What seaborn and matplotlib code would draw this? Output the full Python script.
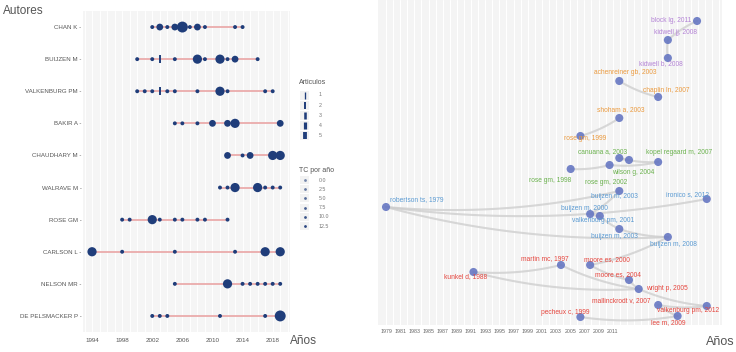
import numpy as np
import pandas as pd
import matplotlib.pyplot as plt
import seaborn as sns

sns.set_style("white")
plt.rcParams['font.family'] = ['Liberation Sans', 'DejaVu Sans']

# ---- datos: produccion de autores en el tiempo ----
authors = ["CHAN K", "BUIJZEN M", "VALKENBURG PM", "BAKIR A", "CHAUDHARY M",
           "WALRAVE M", "ROSE GM", "CARLSON L", "NELSON MR", "DE PELSMACKER P"]
author_years = [
    [2002, 2003, 2004, 2005, 2006, 2007, 2008, 2009, 2013, 2014],
    [2000, 2002, 2005, 2008, 2009, 2011, 2012, 2013, 2016],
    [2000, 2001, 2002, 2004, 2005, 2008, 2011, 2012, 2017, 2018],
    [2005, 2006, 2008, 2010, 2012, 2013, 2019],
    [2012, 2014, 2015, 2018, 2019],
    [2011, 2012, 2013, 2016, 2017, 2018, 2019],
    [1998, 1999, 2002, 2003, 2005, 2006, 2008, 2009, 2012],
    [1994, 1998, 2005, 2013, 2017, 2019],
    [2005, 2012, 2014, 2015, 2016, 2017, 2018, 2019],
    [2002, 2003, 2004, 2011, 2017, 2019],
]
author_articles = [
    [1, 2, 1, 2, 4, 1, 2, 1, 1, 1],
    [1, 1, 1, 3, 1, 3, 1, 2, 1],
    [1, 1, 1, 1, 1, 1, 3, 1, 1, 1],
    [1, 1, 1, 2, 2, 3, 2],
    [2, 1, 2, 3, 3],
    [1, 1, 3, 3, 1, 1, 1],
    [1, 1, 3, 1, 1, 1, 1, 1, 1],
    [3, 1, 1, 1, 3, 3],
    [1, 3, 1, 1, 1, 1, 1, 1],
    [1, 1, 1, 1, 1, 4],
]
bar_authors = ["BUIJZEN M", "VALKENBURG PM"]
bar_years = [2003, 2003]
art_levels = [1, 2, 3, 4, 5]
tc_levels = ["0.0", "2.5", "5.0", "7.5", "10.0", "12.5"]

# ---- datos: historiografo ----
hist_labels = ["block lg, 2011", "kidwell jj, 2008", "kidwell b, 2008",
               "achenreiner gb, 2003", "chaplin ln, 2007", "shoham a, 2003", "rose gm, 1999",
               "rose gm, 1998", "rose gm, 2002", "canuana a, 2003", "wilson g, 2004", "kopel regaard m, 2007",
               "robertson ts, 1979", "ironico s, 2012", "buijzen m, 2003", "buijzen m, 2000",
               "valkenburg pm, 2001", "buijzen m, 2003 ", "buijzen m, 2008",
               "kunkel d, 1988", "martin mc, 1997", "moore es, 2000", "moore es, 2004", "wright p, 2005",
               "mallinckrodt v, 2007", "valkenburg pm, 2012", "lee m, 2009", "pecheux c, 1999"]
hist_years = [2011, 2008, 2008,
              2003, 2007, 2003, 1999,
              1998, 2002, 2003, 2004, 2007,
              1979, 2012, 2003, 2000, 2001, 2003, 2008,
              1988, 1997, 2000, 2004, 2005, 2007, 2012, 2009, 1999]
hist_rank = [21, 40, 58,
             81, 97, 118, 136,
             169, 165, 158, 160, 162,
             207, 199, 191, 214, 216, 229, 237,
             272, 265, 265, 280, 289, 305, 306, 316, 317]
hist_cluster = ["c5"] * 3 + ["c4"] * 4 + ["c3"] * 5 + ["c2"] * 7 + ["c1"] * 9
hist_edges = [(0, 1), (1, 2), (3, 4), (6, 5),
              (7, 8), (8, 11), (9, 10), (9, 11),
              (12, 14), (12, 13), (12, 18), (15, 16), (15, 14), (16, 17), (17, 18),
              (19, 20), (19, 23), (20, 23), (21, 22), (22, 23), (23, 25), (21, 18),
              (27, 26), (24, 26), (24, 25)]
x_tick_labels = [str(y) for y in range(1979, 2012, 2)]

# estilo
label_offsets = [(-26, -1), (8, -8), (-7, 6),
                 (6, -8), (8, -7), (1, -8), (5, 2),
                 (-21, 11), (-3, 18), (-17, -6), (4, 12), (21, -9),
                 (31, -7), (-19, -4), (-5, 6), (-6, -5), (3, 5), (-5, 7), (6, 8),
                 (-8, 5), (-16, -6), (17, -5), (-11, -5), (28, 0), (-37, -4), (-19, 4), (-9, 7), (-15, -5)]
cluster_colors = {"c5": "#b483d6", "c4": "#eb9a3e", "c3": "#6cb24f", "c2": "#5a9ad2", "c1": "#e5463e"}
navy = "#1f3d7a"

fig = plt.figure(figsize=(7.36, 3.52), dpi=100)
W, H = 736, 352


def px_axes(x0, y0, x1, y1):
    return fig.add_axes([x0 / W, 1 - y1 / H, (x1 - x0) / W, (y1 - y0) / H])


# ================= panel izquierdo =================
ax1 = px_axes(83, 11, 290, 332)
rows = []
for a, ys, ns in zip(authors, author_years, author_articles):
    for y, n in zip(ys, ns):
        rows.append({"author": a, "year": y, "articles": n})
df = pd.DataFrame(rows)
ax1.set_facecolor("#f5f5f5")
for yr in range(1993, 2021):
    ax1.axvline(yr, color="white", lw=0.7, zorder=0)
span = df.groupby("author", sort=False)["year"].agg(["min", "max"])
ax1.hlines([authors.index(a) for a in span.index], span["min"], span["max"],
           color="#eaa5a5", lw=1.2, zorder=1)
sns.scatterplot(data=df, x="year", y="author", size="articles",
                sizes={1: 8, 2: 24, 3: 44, 4: 62}, color=navy, edgecolor="none",
                legend=False, zorder=3, ax=ax1)
ax1.scatter(bar_years, [authors.index(a) for a in bar_authors], marker="|", s=30,
            color=navy, linewidths=1.4, zorder=3)
ax1.set_xlim(1992.8, 2020.3)
ax1.set_ylim(9.5, -0.5)
ax1.set_yticks(range(len(authors)))
ax1.set_yticklabels([a + " -" for a in authors], fontsize=4.4, color="#555555")
ax1.set_xticks(range(1994, 2019, 4))
ax1.set_xticks(range(1996, 2019, 4), minor=True)
ax1.tick_params(axis="x", which="major", length=0, labelsize=4.5, labelcolor="#555555", pad=4)
ax1.tick_params(axis="x", which="minor", length=2, color="#777777")
ax1.tick_params(axis="y", length=0, pad=1)
ax1.set_xlabel("")
ax1.set_ylabel("")
for s in ax1.spines.values():
    s.set_visible(False)
fig.text(3 / W, 1 - 11 / H, "Autores", fontsize=8.5, color="#555555", va="center", ha="left")
fig.text(290 / W, 1 - 341 / H, "Años", fontsize=8.5, color="#555555", va="center", ha="left")

# leyenda
axl = px_axes(295, 75, 365, 235)
axl.set_xlim(295, 365)
axl.set_ylim(235, 75)
axl.axis("off")
axl.text(299, 83, "Articulos", fontsize=5, color="#555555", va="center")
for i, n in enumerate(art_levels):
    yy = 95 + i * 10.2
    axl.add_patch(plt.Rectangle((300, yy - 4.5), 9, 9, color="#f2f2f2", lw=0))
    axl.plot([304.5, 304.5], [yy - 3.5, yy + 3.5], color=navy, lw=0.5 + 0.45 * n,
             solid_capstyle="butt")
    axl.text(319, yy, str(n), fontsize=3.8, color="#777777", va="center")
axl.text(299, 170, "TC por año", fontsize=5, color="#555555", va="center")
for i, t in enumerate(tc_levels):
    yy = 180 + i * 9.2
    axl.add_patch(plt.Rectangle((300, yy - 4), 9, 8, color="#f2f2f2", lw=0))
    axl.scatter([304.5], [yy], s=4, color=navy, alpha=0.6 + 0.07 * i, lw=0)
    axl.text(319, yy, t, fontsize=3.8, color="#777777", va="center")

# ================= panel derecho =================
ax2 = px_axes(378, 0, 722, 325)
PX = 9.72
x0 = 1979 - 8 / PX
x1 = 1979 + 336 / PX
ax2.set_facecolor("#f4f4f4")
for g in np.arange(1979, x1, 0.729):
    ax2.axvline(g, color="white", lw=0.8, zorder=0)


def curve(xa, ya, xb, yb, k=0.08, n=50):
    p0 = np.array([(xa - 1979) * PX, ya])
    p2 = np.array([(xb - 1979) * PX, yb])
    d = p2 - p0
    c = (p0 + p2) / 2 + k * np.array([-d[1], d[0]])
    t = np.linspace(0, 1, n)[:, None]
    pts = (1 - t) ** 2 * p0 + 2 * (1 - t) * t * c + t ** 2 * p2
    return pts[:, 0] / PX + 1979, pts[:, 1]


for a, b in hist_edges:
    cx, cy = curve(hist_years[a], hist_rank[a], hist_years[b], hist_rank[b])
    ax2.plot(cx, cy, color="#cccccc", lw=1.5, alpha=0.75, zorder=1, solid_capstyle="round")

hdf = pd.DataFrame({"label": hist_labels, "year": hist_years, "rank": hist_rank,
                    "cluster": hist_cluster})
sns.scatterplot(data=hdf, x="year", y="rank", color="#6677c2", s=34, alpha=0.9,
                edgecolor="none", legend=False, zorder=3, ax=ax2)
for (lab, yr, rk, cl), (dx, dy) in zip(hdf.itertuples(index=False, name=None), label_offsets):
    ax2.annotate(lab.strip(), (yr, rk), xytext=(dx * 0.72, -dy * 0.72), textcoords="offset points",
                 ha="center", va="center", fontsize=4.8, color=cluster_colors[cl], zorder=4)

ax2.set_xlim(x0, x1)
ax2.set_ylim(325, 0)
ax2.set_xticks(np.linspace(1979, 1979 + 16 * 14.17 / PX, 17))
ax2.set_xticklabels(x_tick_labels)
ax2.tick_params(axis="x", length=0, labelsize=3.8, labelcolor="#666666", pad=3)
ax2.set_yticks([])
ax2.set_xlabel("")
ax2.set_ylabel("")
for s in ax2.spines.values():
    s.set_visible(False)
fig.text(706 / W, 1 - 342 / H, "Años", fontsize=9, color="#555555", va="center", ha="left")

fig.savefig("out.png", dpi=100)
